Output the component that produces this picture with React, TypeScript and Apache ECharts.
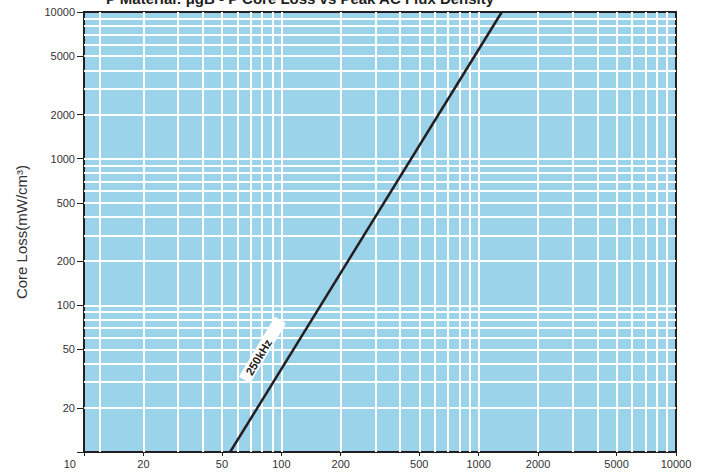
import React, { useEffect, useRef } from 'react';
import * as echarts from 'echarts';

// Grid (white) lines
const xGridValues = [12, 20, 30, 40, 50, 60, 70, 80, 90, 100, 200, 300, 400, 500, 600, 700, 800, 900, 1000, 2000, 3000, 4000, 5000, 6000, 7000, 8000, 9000];
const yGridValues = [20, 30, 40, 50, 60, 70, 80, 90, 100, 200, 300, 400, 500, 600, 700, 800, 900, 1000, 2000, 3000, 4000, 5000, 6000, 7000, 8000, 9000];
// Tick labels
const xLabelValues = [10, 20, 50, 100, 200, 500, 1000, 2000, 5000, 10000];
const yLabelValues = [20, 50, 100, 200, 500, 1000, 2000, 5000, 10000];
const yTickValues = [10, 20, 50, 100, 200, 500, 1000, 2000, 5000, 10000];
// 250kHz curve: [flux density (Gauss), core loss (mW/cm3)]
const curve250kHz = [[55, 10], [1310, 10000]];

const FONT = '"Liberation Sans", Arial, Helvetica, sans-serif';
const INK = '#231f20';

export default function App() {
  const ref = useRef<HTMLDivElement>(null);
  useEffect(() => {
    if (!ref.current) return;
    const chart = echarts.init(ref.current, null, { renderer: 'svg' });
    const rot = (59 * Math.PI) / 180;
    chart.setOption({
      animation: false,
      backgroundColor: '#ffffff',
      grid: {
        left: 84, right: 29, top: 12, bottom: 22,
        show: true, backgroundColor: '#9AD3EA', borderColor: INK, borderWidth: 2,
      },
      xAxis: {
        type: 'log', logBase: 10, min: 10, max: 10000,
        axisLine: { show: true, lineStyle: { color: INK, width: 2 } },
        axisTick: { show: true, customValues: xLabelValues, length: 4, lineStyle: { color: INK, width: 1 } },
        axisLabel: {
          customValues: xLabelValues, color: '#333', fontSize: 11, fontFamily: FONT, margin: 6,
          alignMinLabel: 'right',
          formatter: (v: number) => (v === 10 ? '{m|10}' : String(v)),
          rich: { m: { padding: [0, 8, 0, 0], fontSize: 11, fontFamily: FONT, color: '#333' } },
        },
        splitLine: { show: false },
        minorTick: { show: false },
      },
      yAxis: {
        type: 'log', logBase: 10, min: 10, max: 10000,
        name: 'Core Loss(mW/cm³)', nameLocation: 'middle', nameGap: 55,
        nameTextStyle: { color: '#333', fontSize: 15, fontFamily: FONT },
        axisLine: { show: true, lineStyle: { color: INK, width: 2 } },
        axisTick: { show: true, customValues: yTickValues, length: 7, lineStyle: { color: INK, width: 1 } },
        axisLabel: {
          customValues: yLabelValues, color: '#333', fontSize: 11, fontFamily: FONT, margin: 9,
          formatter: (v: number) => String(v),
        },
        splitLine: { show: false },
      },
      graphic: [
        {
          type: 'text', x: 300, y: -2, z: 10,
          style: {
            text: 'P Material: μgB - P Core Loss vs Peak AC Flux Density',
            font: 'bold 15px ' + FONT, fill: INK, align: 'center', verticalAlign: 'middle',
          },
        },
        {
          type: 'group', x: 262.5, y: 350, rotation: rot, z: 20,
          children: [
            { type: 'rect', z: 20, shape: { x: -35, y: -6.5, width: 70, height: 13, r: 1 }, style: { fill: '#ffffff' } },
            {
              type: 'text', z: 21, x: -8, y: 0.5,
              style: { text: '250kHz', font: 'bold 11.5px ' + FONT, fill: INK, align: 'center', verticalAlign: 'middle' },
            },
          ],
        },
      ],
      series: [
        {
          type: 'line', data: [[10, 10]], symbol: 'none', lineStyle: { opacity: 0 }, z: 1, silent: true,
          markLine: {
            silent: true, symbol: ['none', 'none'], label: { show: false },
            lineStyle: { color: '#ffffff', width: 2, type: 'solid' },
            emphasis: { disabled: true },
            data: [
              ...xGridValues.map((v) => ({ xAxis: v })),
              ...yGridValues.map((v) => ({ yAxis: v })),
            ],
          },
        },
        {
          type: 'line', data: curve250kHz, symbol: 'none', z: 5, silent: true,
          lineStyle: { color: INK, width: 2.5 },
        },
      ],
    });
    return () => chart.dispose();
  }, []);
  return <div ref={ref} style={{ position: 'fixed', left: 0, top: 0, width: 705, height: 474 }} />;
}
